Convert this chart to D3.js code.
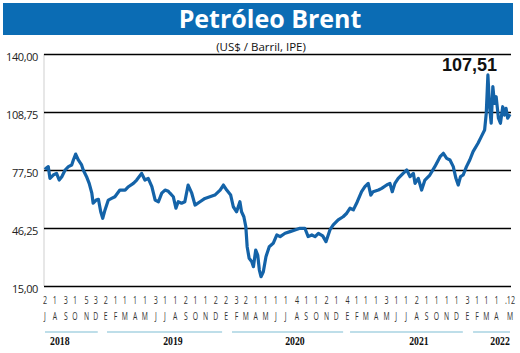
<!DOCTYPE html>
<html>
<head>
<meta charset="utf-8">
<script src="https://cdn.jsdelivr.net/npm/d3@7"></script>
<style>
  body { margin: 0; background: #fff; }
  svg { display: block; }
</style>
</head>
<body>
<div id="brent-chart"></div>
<script>
// ---- data ----
const priceDates = [
  "2018-07-02","2018-07-05","2018-07-12","2018-07-17","2018-07-27","2018-08-06","2018-08-14","2018-08-22",
  "2018-09-01","2018-09-11","2018-09-21","2018-09-26","2018-10-03","2018-10-11","2018-10-21","2018-10-26",
  "2018-11-05","2018-11-13","2018-11-21","2018-11-25","2018-12-04","2018-12-11","2018-12-18","2018-12-24",
  "2018-12-31","2019-01-10","2019-01-20","2019-01-30","2019-02-14","2019-03-02","2019-03-12","2019-03-27",
  "2019-04-06","2019-04-21","2019-05-01","2019-05-11","2019-05-22","2019-06-01","2019-06-11","2019-06-21",
  "2019-07-01","2019-07-11","2019-07-16","2019-07-26","2019-08-03","2019-08-10","2019-08-20","2019-08-30",
  "2019-09-09","2019-09-20","2019-09-30","2019-10-15","2019-10-30","2019-11-14","2019-11-29","2019-12-15",
  "2019-12-25","2020-01-04","2020-01-16","2020-01-24","2020-02-03","2020-02-13","2020-02-18","2020-02-25",
  "2020-03-02","2020-03-06","2020-03-12","2020-03-20","2020-03-25","2020-04-01","2020-04-07","2020-04-12",
  "2020-04-17","2020-04-24","2020-05-02","2020-05-12","2020-05-24","2020-06-04","2020-06-14","2020-06-29",
  "2020-07-14","2020-07-29","2020-08-13","2020-08-28","2020-09-07","2020-09-18","2020-09-28","2020-10-08",
  "2020-10-21","2020-10-31","2020-11-12","2020-11-22","2020-12-07","2020-12-22","2021-01-02","2021-01-12",
  "2021-01-22","2021-02-03","2021-02-16","2021-02-26","2021-03-08","2021-03-16","2021-03-23","2021-04-08",
  "2021-04-18","2021-05-03","2021-05-13","2021-05-20","2021-05-28","2021-06-07","2021-06-22","2021-07-03",
  "2021-07-13","2021-07-23","2021-07-28","2021-08-07","2021-08-17","2021-08-27","2021-09-11","2021-09-26",
  "2021-10-12","2021-10-22","2021-11-01","2021-11-11","2021-11-21","2021-11-29","2021-12-06","2021-12-13",
  "2021-12-21","2021-12-31","2022-01-10","2022-01-20","2022-02-04","2022-02-14","2022-02-24","2022-03-01",
  "2022-03-06","2022-03-11","2022-03-16","2022-03-21","2022-03-26","2022-03-31","2022-04-07","2022-04-13",
  "2022-04-20","2022-04-25","2022-04-30","2022-05-05","2022-05-12"
];
const priceValues = [
  77.8, 78.4, 79.3, 73.0, 74.8, 75.7, 72.1, 73.9,
  77.5, 79.3, 80.2, 82.9, 86.1, 82.9, 80.2, 77.5,
  73.9, 70.3, 65.0, 59.6, 61.3, 61.7, 55.0, 51.5,
  56.0, 61.3, 62.2, 63.1, 66.7, 66.7, 68.5, 70.3,
  72.1, 75.7, 72.1, 73.0, 68.5, 61.3, 60.4, 65.0,
  66.7, 66.0, 65.0, 63.1, 56.9, 60.4, 59.6, 60.4,
  69.4, 65.0, 58.6, 60.4, 62.2, 63.1, 64.0, 66.7,
  69.4, 66.7, 64.0, 57.7, 55.0, 60.4, 55.0, 52.3,
  46.9, 36.2, 29.9, 28.1, 25.4, 34.4, 31.7, 23.6,
  20.0, 22.7, 30.8, 36.2, 38.0, 42.5, 41.6, 43.4,
  44.3, 45.2, 46.1, 46.1, 41.6, 42.5, 41.6, 43.4,
  42.0, 38.9, 45.2, 47.9, 50.6, 52.3, 54.2, 56.9,
  56.0, 60.4, 65.8, 68.5, 70.3, 64.0, 65.8, 66.7,
  67.6, 69.4, 70.3, 65.8, 70.3, 73.0, 75.7, 77.5,
  73.9, 75.7, 70.3, 73.0, 66.7, 72.1, 74.8, 79.3,
  84.7, 86.5, 83.8, 82.9, 79.3, 73.0, 69.4, 73.9,
  74.8, 79.3, 82.9, 87.4, 91.9, 95.5, 99.0, 108.0,
  128.7, 111.6, 102.7, 122.4, 113.4, 117.0, 105.4, 102.7,
  111.6, 107.1, 110.7, 105.4, 107.51
];
const lastPriceLabel = "107,51";

const yTicks = [ 15, 46.25, 77.5, 108.75, 140 ];

// month + day of first quote in that month
const monthStarts = [
  "2018-07","2018-08","2018-09","2018-10","2018-11","2018-12",
  "2019-01","2019-02","2019-03","2019-04","2019-05","2019-06","2019-07","2019-08","2019-09","2019-10","2019-11","2019-12",
  "2020-01","2020-02","2020-03","2020-04","2020-05","2020-06","2020-07","2020-08","2020-09","2020-10","2020-11","2020-12",
  "2021-01","2021-02","2021-03","2021-04","2021-05","2021-06","2021-07","2021-08","2021-09","2021-10","2021-11","2021-12",
  "2022-01","2022-02","2022-03","2022-04","2022-05"
];
const monthFirstDays = [
  2,1,3,1,5,3,
  2,1,1,1,1,3,1,1,2,1,1,2,
  2,3,2,1,1,1,1,4,1,1,2,1,
  4,1,1,1,3,1,1,2,1,1,1,1,
  3,1,1,1,12
];
const monthDayLabels = monthFirstDays.map( ( d, i ) => i === monthFirstDays.length - 1 ? ".12" : String( d ) );
const monthLetterByNum = [ "E","F","M","A","M","J","J","A","S","O","N","D" ];

const yearNames = [ "2018", "2019", "2020", "2021", "2022" ];
const yearLabelDates = [ "2018-08-16", "2019-07-25", "2020-07-29", "2021-08-09", "2022-04-12" ];
const yearSpanStarts = [ "2018-07-02", "2019-01-06", "2020-01-20", "2021-01-12", "2022-01-20" ];
const yearSpanEnds   = [ "2018-12-09", "2019-12-21", "2020-12-22", "2021-12-20", "2022-05-12" ];

// ---- chart ----
function brentChartUp () {
  const svgWidth = 520, svgHeight = 353;
  const plot = { left: 44, right: 511, top: 54, bottom: 286 };
  const parseDay = d3.timeParse( "%Y-%m-%d" );

  const svg = d3
    .select( "#brent-chart" )
    .append( "svg" )
    .attr( "width", svgWidth )
    .attr( "height", svgHeight );

  // title banner
  svg.append( "rect" )
    .attr( "x", 3 ).attr( "y", 3 )
    .attr( "width", 510 ).attr( "height", 32 )
    .attr( "fill", "#0b6cb4" );

  svg.append( "text" )
    .attr( "x", 270 ).attr( "y", 28 )
    .attr( "text-anchor", "middle" )
    .style( "font-family", "'Open Sans', 'Noto Sans', sans-serif" )
    .style( "font-weight", "bold" )
    .style( "font-size", "25px" )
    .attr( "fill", "#fff" )
    .text( "Petróleo Brent" );

  svg.append( "text" )
    .attr( "x", 261 ).attr( "y", 51 )
    .attr( "text-anchor", "middle" )
    .style( "font-family", "'Open Sans', 'Noto Sans', sans-serif" )
    .style( "font-size", "11.5px" )
    .attr( "fill", "#111" )
    .text( "(US$ / Barril, IPE)" );

  // scales
  const xScale = d3.scaleTime()
    .domain( [ parseDay( priceDates[ 0 ] ), parseDay( priceDates[ priceDates.length - 1 ] ) ] )
    .range( [ 45, 510 ] );

  const yScale = d3.scaleLinear()
    .domain( [ 15, 140 ] )
    .range( [ plot.bottom, plot.top ] );

  // faint y axis line
  svg.append( "line" )
    .attr( "x1", plot.left ).attr( "x2", plot.left )
    .attr( "y1", plot.top ).attr( "y2", plot.bottom )
    .attr( "stroke", "#cfcfcf" )
    .attr( "stroke-width", 1 );

  // horizontal grid + labels
  const leftAxis = svg.append( "g" )
    .attr( "transform", `translate(${plot.left}, 0)` )
    .call( d3.axisLeft( yScale )
      .tickValues( yTicks )
      .tickSize( -( plot.right - plot.left ) )
      .tickPadding( 6 )
      .tickFormat( d => d3.format( ".2f" )( d ).replace( ".", "," ) )
    );
  leftAxis.select( ".domain" ).remove();
  leftAxis.selectAll( ".tick line" )
    .attr( "stroke", "#000" )
    .attr( "stroke-width", 1.4 );
  leftAxis.selectAll( ".tick text" )
    .attr( "dy", "0.55em" )
    .attr( "fill", "#222" )
    .style( "font-family", "'Open Sans', 'Noto Sans', sans-serif" )
    .style( "font-size", "11px" )
    .style( "letter-spacing", "-0.4px" );

  // price line
  const priceData = priceDates.map( ( d, i ) => ( { date: parseDay( d ), value: priceValues[ i ] } ) );
  const line = d3.line()
    .x( d => xScale( d.date ) )
    .y( d => yScale( d.value ) );

  svg.append( "path" )
    .datum( priceData )
    .attr( "d", line )
    .attr( "fill", "none" )
    .attr( "stroke", "#1463a8" )
    .attr( "stroke-width", 3.2 )
    .attr( "stroke-linejoin", "round" );

  // last value label
  svg.append( "text" )
    .attr( "x", 497 ).attr( "y", 71 )
    .attr( "text-anchor", "end" )
    .style( "font-family", "'Liberation Sans', Arial, sans-serif" )
    .style( "font-weight", "bold" )
    .style( "font-size", "18px" )
    .attr( "fill", "#111" )
    .text( lastPriceLabel );

  // month rows: day number + letter
  const months = monthStarts.map( ( m, i ) => {
    const date = parseDay( `${m}-${String( monthFirstDays[ i ] ).padStart( 2, "0" )}` );
    return { date, day: monthDayLabels[ i ], letter: monthLetterByNum[ date.getMonth() ] };
  } );

  const monthGroup = svg.append( "g" );
  monthGroup.selectAll( "text.day" )
    .data( months )
    .enter().append( "text" )
    .attr( "class", "day" )
    .attr( "transform", d => `translate(${xScale( d.date )}, 304) scale(0.62, 1)` )
    .attr( "text-anchor", "middle" )
    .style( "font-family", "'Open Sans', sans-serif" )
    .style( "font-size", "11.5px" )
    .attr( "fill", "#333" )
    .text( d => d.day );

  monthGroup.selectAll( "text.letter" )
    .data( months )
    .enter().append( "text" )
    .attr( "class", "letter" )
    .attr( "transform", d => `translate(${xScale( d.date )}, 320) scale(0.62, 1)` )
    .attr( "text-anchor", "middle" )
    .style( "font-family", "'Open Sans', sans-serif" )
    .style( "font-size", "11px" )
    .attr( "fill", "#333" )
    .text( d => d.letter );

  // year bars + names
  const years = yearNames.map( ( y, i ) => ( {
    name: y,
    at: parseDay( yearLabelDates[ i ] ),
    from: parseDay( yearSpanStarts[ i ] ),
    to: parseDay( yearSpanEnds[ i ] )
  } ) );

  svg.selectAll( "line.year" )
    .data( years )
    .enter().append( "line" )
    .attr( "class", "year" )
    .attr( "x1", d => xScale( d.from ) )
    .attr( "x2", d => xScale( d.to ) )
    .attr( "y1", 332 ).attr( "y2", 332 )
    .attr( "stroke", "#a9d3e2" )
    .attr( "stroke-width", 1.5 );

  svg.selectAll( "text.year" )
    .data( years )
    .enter().append( "text" )
    .attr( "class", "year" )
    .attr( "transform", d => `translate(${xScale( d.at )}, 345) scale(0.85, 1)` )
    .attr( "text-anchor", "middle" )
    .style( "font-family", "'Liberation Serif', serif" )
    .style( "font-weight", "bold" )
    .style( "font-size", "11.5px" )
    .attr( "fill", "#111" )
    .text( d => d.name );
}

brentChartUp();
</script>
</body>
</html>
